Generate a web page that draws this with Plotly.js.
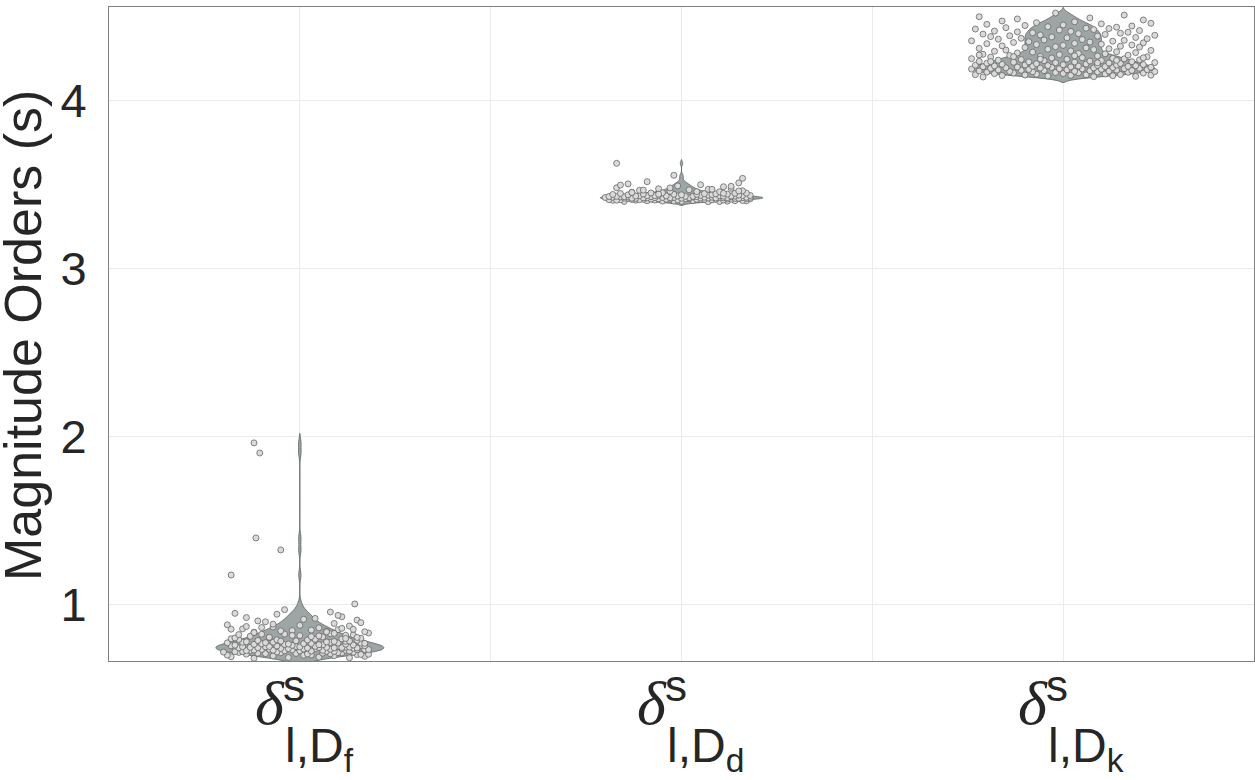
<!DOCTYPE html>
<html>
<head>
<meta charset="utf-8">
<script src="https://cdn.plot.ly/plotly-3.0.1.min.js"></script>
<style>
  html, body { margin: 0; padding: 0; background: #fff; }
  #chart { width: 1255px; height: 780px; }
</style>
</head>
<body>
<div id="chart"></div>
<script>
// category subscripts for the x labels delta^s_{l,D_x}
var subLetters = ['f', 'd', 'k'];
var tickText = ['l,D<sub>f</sub>', 'l,D<sub>d</sub>', 'l,D<sub>k</sub>'];
var yTicks = [1, 2, 3, 4];
var yTitle = 'Magnitude Orders (s)';

// magnitude orders
var dfY = [0.683, 0.69, 0.695, 0.688, 0.699, 0.692, 0.686, 0.697,
  0.701, 0.705, 0.708, 0.71, 0.712, 0.715, 0.718, 0.703, 0.707, 0.711, 0.714, 0.716, 0.719, 0.702, 0.709, 0.713, 0.717, 0.706,
  0.721, 0.723, 0.725, 0.727, 0.729, 0.731, 0.733, 0.735, 0.737, 0.739, 0.722, 0.724, 0.726, 0.728, 0.73, 0.732, 0.734, 0.736, 0.738, 0.74, 0.72, 0.726, 0.731, 0.735, 0.729, 0.737,
  0.741, 0.743, 0.745, 0.747, 0.749, 0.751, 0.753, 0.755, 0.757, 0.759, 0.742, 0.744, 0.746, 0.748, 0.75, 0.752, 0.754, 0.756, 0.758, 0.76, 0.745, 0.748, 0.751, 0.744, 0.753, 0.747,
  0.761, 0.763, 0.765, 0.767, 0.769, 0.771, 0.773, 0.775, 0.777, 0.779, 0.762, 0.766, 0.77, 0.774, 0.778, 0.764, 0.768, 0.772, 0.776, 0.78,
  0.781, 0.784, 0.787, 0.79, 0.793, 0.796, 0.799, 0.783, 0.786, 0.789, 0.792, 0.795, 0.798, 0.785,
  0.802, 0.806, 0.81, 0.814, 0.818, 0.822, 0.826, 0.829, 0.804, 0.812, 0.82, 0.827,
  0.833, 0.838, 0.843, 0.848, 0.853, 0.858, 0.864, 0.869,
  0.875, 0.882, 0.89, 0.9, 0.91, 0.915, 0.925, 0.93, 0.945,
  0.801, 0.808, 0.816, 0.824, 0.807, 0.819,
  0.831, 0.836, 0.841, 0.846, 0.851, 0.856, 0.861, 0.866, 0.84, 0.855,
  0.872, 0.879, 0.886, 0.895, 0.905, 0.92, 0.938, 0.95, 0.958, 0.972,
  1.006, 1.178, 1.327, 1.398, 1.903, 1.963];
var dfDx = [-0.12, 0.05, 0.17, -0.03, 0.09, -0.18, 0.13, -0.07, 0.01, 0.15,
  -0.14, 0.08, -0.01, 0.11, -0.16, 0.03, 0.18, -0.09, 0.06, -0.05,
  0.14, -0.19, 0.02, -0.11, 0.1, 0.16, -0.06, -0.15, 0.07, 0.0,
  -0.13, 0.12, -0.02, 0.17, -0.08, 0.04, -0.17, 0.09, 0.13, -0.04,
  0.06, -0.12, 0.15, -0.1, 0.01, 0.11, -0.2, 0.03, -0.07, 0.18,
  -0.14, 0.08, -0.03, 0.14, -0.16, 0.05, 0.12, -0.09, -0.01, 0.1,
  -0.18, 0.16, -0.05, 0.02, -0.11, 0.07, 0.13, -0.15, 0.04, -0.06,
  0.17, -0.02, 0.09, -0.13, 0.0, 0.15, -0.08, 0.11, -0.17, 0.06,
  -0.04, 0.12, -0.1, 0.03, 0.16, -0.19, 0.08, -0.07, 0.14, -0.12,
  0.01, 0.1, -0.15, 0.05, -0.03, 0.17, -0.09, 0.07, -0.14, 0.12,
  -0.01, 0.15, -0.06, 0.04, -0.18, 0.09, 0.13, -0.11, 0.02, -0.16,
  0.11, -0.05, 0.16, -0.08, 0.06, -0.13, 0.0, 0.14, -0.1, 0.08,
  -0.17, 0.03, 0.12, -0.04, 0.18, -0.12, 0.07, -0.02, 0.1, -0.15,
  0.05, -0.07, 0.13, -0.19, 0.09, -0.09, 0.15, 0.01, -0.14, 0.11,
  -0.06,
  0.12, -0.08, 0.05, -0.16, 0.15, -0.02,
  0.09, -0.12, 0.17, -0.05, 0.03, -0.18, 0.11, -0.1, 0.07, 0.14,
  -0.14, 0.0, -0.07, 0.16, -0.11, 0.04, 0.1, -0.17, 0.08, -0.04,
  0.144, -0.18, -0.05, -0.115, -0.105, -0.12];

var ddY = [3.396, 3.398, 3.399, 3.4, 3.401, 3.402, 3.403, 3.404, 3.397, 3.4, 3.402, 3.405, 3.399, 3.403,
  3.406, 3.407, 3.408, 3.409, 3.41, 3.411, 3.412, 3.413, 3.414, 3.415, 3.406, 3.408, 3.41, 3.412, 3.414, 3.407, 3.409, 3.411, 3.413, 3.415, 3.405, 3.41, 3.412, 3.408, 3.414, 3.411,
  3.416, 3.417, 3.418, 3.419, 3.42, 3.421, 3.422, 3.423, 3.424, 3.425, 3.416, 3.418, 3.42, 3.422, 3.424, 3.417, 3.419, 3.421, 3.423, 3.425, 3.416, 3.419, 3.42, 3.421, 3.418, 3.422, 3.42, 3.417, 3.423, 3.42,
  3.426, 3.427, 3.428, 3.429, 3.43, 3.431, 3.432, 3.433, 3.434, 3.435, 3.426, 3.428, 3.43, 3.432, 3.434, 3.427, 3.429, 3.431, 3.433, 3.43, 3.428, 3.432,
  3.436, 3.437, 3.438, 3.44, 3.441, 3.442, 3.444, 3.445, 3.447, 3.449, 3.437, 3.439, 3.443, 3.446, 3.448, 3.44,
  3.452, 3.455, 3.458, 3.461, 3.464, 3.467, 3.47, 3.473, 3.476, 3.479,
  3.485, 3.49, 3.497, 3.502, 3.508, 3.515,
  3.441, 3.446, 3.451, 3.456, 3.46, 3.465, 3.47, 3.478, 3.488, 3.495,
  3.535, 3.553, 3.624];
var ddDx = [0.07, -0.15, 0.12, -0.02, 0.17, -0.09, 0.03, -0.18, 0.1, -0.05,
  0.14, -0.12, 0.0, 0.16, -0.07, 0.08, -0.16, 0.05, -0.1, 0.13,
  -0.03, 0.18, -0.14, 0.02, 0.11, -0.19, 0.06, -0.08, 0.15, -0.01,
  -0.13, 0.09, -0.06, 0.17, -0.17, 0.04, 0.12, -0.11, 0.01, -0.04,
  0.14, -0.15, 0.07, -0.09, 0.16, -0.02, 0.1, -0.18, 0.03, 0.13,
  -0.12, 0.05, -0.07, 0.18, -0.14, 0.0, 0.11, -0.05, 0.08, -0.16,
  0.15, -0.1, 0.02, -0.2, 0.09, 0.17, -0.03, -0.13, 0.06, 0.12,
  -0.08, 0.04, -0.17, 0.14, -0.01, 0.1, -0.11, 0.16, -0.06, 0.07,
  -0.15, 0.01, 0.13, -0.09, 0.05, -0.19, 0.11, -0.04, 0.18, -0.12,
  0.03, -0.07, 0.15, -0.14, 0.08, -0.02, 0.12, -0.1, 0.06, -0.16,
  0.17, -0.05, 0.0, -0.18, 0.09, 0.14, -0.08, 0.04, -0.13, 0.1,
  -0.03, 0.16, -0.11, 0.02, 0.07, -0.06, 0.13, -0.17, 0.11, -0.01,
  0.05, -0.14, 0.15, -0.09,
  -0.06, 0.11, -0.13, 0.04, 0.15, -0.1, 0.08, -0.03, 0.13, -0.16,
  0.16, -0.02, -0.17];

var dkY = [4.137, 4.139, 4.141, 4.143, 4.145, 4.146, 4.147, 4.148, 4.149, 4.15,
  4.151, 4.152, 4.154, 4.155, 4.157, 4.158, 4.16, 4.161, 4.162, 4.164, 4.165, 4.166, 4.167, 4.168, 4.169, 4.17,
  4.171, 4.172, 4.173, 4.174, 4.175, 4.176, 4.177, 4.178, 4.179, 4.18, 4.181, 4.182, 4.183, 4.184, 4.185, 4.186, 4.187, 4.188, 4.189, 4.19,
  4.191, 4.192, 4.193, 4.194, 4.195, 4.196, 4.197, 4.198, 4.199, 4.2, 4.201, 4.202, 4.203, 4.204, 4.205, 4.206, 4.207, 4.208, 4.209, 4.21,
  4.211, 4.213, 4.214, 4.216, 4.217, 4.219, 4.22, 4.222, 4.223, 4.225, 4.226, 4.227, 4.228, 4.23,
  4.232, 4.234, 4.235, 4.237, 4.239, 4.241, 4.243, 4.245, 4.246, 4.248, 4.25,
  4.252, 4.255, 4.257, 4.26, 4.262, 4.265, 4.267, 4.27, 4.272, 4.275, 4.277, 4.28,
  4.282, 4.285, 4.287, 4.29, 4.292, 4.295, 4.297, 4.3, 4.302, 4.305, 4.307, 4.31,
  4.312, 4.315, 4.317, 4.32, 4.322, 4.325, 4.327, 4.33, 4.332, 4.335, 4.337, 4.34,
  4.342, 4.345, 4.347, 4.35, 4.352, 4.355, 4.357, 4.36, 4.362, 4.365, 4.367, 4.37,
  4.372, 4.375, 4.377, 4.38, 4.382, 4.385, 4.387, 4.39, 4.392, 4.395, 4.397, 4.4,
  4.403, 4.405, 4.408, 4.41, 4.413, 4.416, 4.419, 4.422, 4.425, 4.427, 4.43,
  4.433, 4.436, 4.44, 4.443, 4.446, 4.45, 4.453, 4.456, 4.46,
  4.465, 4.47, 4.476, 4.482, 4.488,
  4.495, 4.505, 4.517,
  4.221, 4.229, 4.236, 4.244, 4.251, 4.258, 4.263, 4.268];
var dkDx = [-0.21, 0.08, 0.19, -0.04, 0.13, -0.16, 0.02, 0.23, -0.1, 0.06,
  -0.23, 0.15, -0.07, 0.11, -0.18, 0.0, 0.21, -0.13, 0.04, -0.02,
  0.17, -0.2, 0.09, -0.08, 0.24, -0.14, 0.03, 0.12, -0.22, 0.07,
  -0.05, 0.18, -0.11, 0.14, -0.17, 0.01, 0.22, -0.09, 0.1, -0.24,
  0.05, -0.01, 0.16, -0.19, 0.2, -0.06, 0.08, -0.15, 0.13, -0.03,
  0.23, -0.12, 0.02, -0.21, 0.11, 0.17, -0.08, 0.04, -0.18, 0.19,
  -0.04, 0.09, -0.23, 0.14, -0.1, 0.0, 0.21, -0.16, 0.06, -0.07,
  0.15, -0.2, 0.12, -0.02, 0.24, -0.13, 0.03, -0.09, 0.18, -0.22,
  0.07, -0.05, 0.1, -0.17, 0.2, -0.11, 0.01, 0.16, -0.24, 0.13,
  -0.03, 0.05, -0.19, 0.22, -0.06, 0.09, -0.14, 0.17, -0.01, -0.21,
  0.11, 0.04, -0.12, 0.19, -0.08, 0.14, -0.18, 0.02, 0.23, -0.15,
  0.08, -0.04, 0.12, -0.22, 0.06, -0.1, 0.2, -0.02, 0.15, -0.16,
  0.0, 0.18, -0.07, 0.1, -0.2, 0.03, 0.21, -0.13, 0.07, -0.09,
  0.13, -0.24, 0.16, -0.05, 0.05, -0.17, 0.22, -0.11, 0.01, 0.19,
  -0.03, -0.19, 0.09, -0.14, 0.24, -0.06, 0.11, -0.21, 0.04, 0.15,
  -0.08, 0.17, -0.12, 0.02, -0.18, 0.2, -0.01, 0.08, -0.23, 0.12,
  0.06, -0.15, 0.14, -0.04, 0.18, -0.1, 0.0, -0.2, 0.1, 0.23,
  -0.07, 0.03, -0.16, 0.21, -0.12, 0.07, -0.22, 0.16, -0.02,
  0.09, -0.19, 0.14, -0.06, 0.21, -0.13, 0.03, -0.22];

var groupsY = [dfY, ddY, dkY];
var groupsDx = [dfDx, ddDx, dkDx];
var violinWidth = [0.44, 0.425, 0.48];
var bandwidth = [0.028, 0.011, 0.016];

var textColor = '#262626';
var traces = [];

for (var i = 0; i < groupsY.length; i++) {
  traces.push({
    type: 'violin',
    x0: i,
    y: groupsY[i],
    width: violinWidth[i],
    bandwidth: bandwidth[i],
    spanmode: 'soft',
    points: false,
    box: {visible: false},
    meanline: {visible: false},
    fillcolor: '#9ea6a5',
    line: {color: '#586060', width: 0.8},
    hoverinfo: 'y'
  });
}

for (var i = 0; i < groupsY.length; i++) {
  var xs = [];
  for (var j = 0; j < groupsY[i].length; j++) {
    xs.push(i + groupsDx[i][j]);
  }
  traces.push({
    type: 'scatter',
    mode: 'markers',
    x: xs,
    y: groupsY[i],
    marker: {size: 6, color: '#dadada', line: {color: '#666666', width: 0.8}},
    hoverinfo: 'y'
  });
}

// x labels: delta with superscript s and subscript l,D_x
var annotations = [];
for (var i = 0; i < subLetters.length; i++) {
  annotations.push({
    x: i, xref: 'x', y: 0, yref: 'paper',
    text: '<i>δ</i>', showarrow: false,
    font: {family: 'Liberation Serif', size: 62, color: textColor},
    xanchor: 'right', yanchor: 'middle', xshift: -13, yshift: -42
  });
  annotations.push({
    x: i, xref: 'x', y: 0, yref: 'paper',
    text: 's', showarrow: false,
    font: {family: 'Liberation Sans', size: 44, color: textColor},
    xanchor: 'left', yanchor: 'middle', xshift: -19, yshift: -24
  });
  annotations.push({
    x: i, xref: 'x', y: 0, yref: 'paper',
    text: tickText[i], showarrow: false,
    font: {family: 'Liberation Sans', size: 48, color: textColor},
    xanchor: 'left', yanchor: 'middle', xshift: -17, yshift: -88
  });
}

// y title as a rotated annotation so it sits where the reference has it
annotations.push({
  x: 0, xref: 'paper', y: 0.5, yref: 'paper',
  text: yTitle, showarrow: false, textangle: -90,
  font: {family: 'Liberation Sans', size: 52, color: textColor},
  xanchor: 'center', yanchor: 'middle', xshift: -86, yshift: -2
});

var layout = {
  width: 1255,
  height: 780,
  margin: {l: 109, r: 1, t: 7, b: 119},
  paper_bgcolor: '#ffffff',
  plot_bgcolor: '#ffffff',
  showlegend: false,
  violinmode: 'overlay',
  font: {family: 'Liberation Sans', color: textColor},
  xaxis: {
    type: 'linear',
    range: [-0.5, 2.5],
    tickvals: [0, 1, 2],
    showticklabels: false,
    ticks: '',
    showgrid: true,
    gridcolor: '#ebebeb',
    gridwidth: 1,
    minor: {tickvals: [0.5, 1.5], showgrid: true, gridcolor: '#ebebeb', gridwidth: 1, ticks: ''},
    zeroline: false,
    showline: true,
    mirror: true,
    linecolor: '#808080',
    linewidth: 1
  },
  yaxis: {
    range: [0.667, 4.553],
    tickvals: yTicks,
    ticktext: yTicks.map(String),
    ticks: '',
    ticklabelstandoff: 12,
    tickfont: {family: 'Liberation Sans', size: 47, color: textColor},
    showgrid: true,
    gridcolor: '#ebebeb',
    gridwidth: 1,
    zeroline: false,
    showline: true,
    mirror: true,
    linecolor: '#808080',
    linewidth: 1
  },
  annotations: annotations
};

Plotly.newPlot('chart', traces, layout, {displayModeBar: false, staticPlot: true});
</script>
</body>
</html>
